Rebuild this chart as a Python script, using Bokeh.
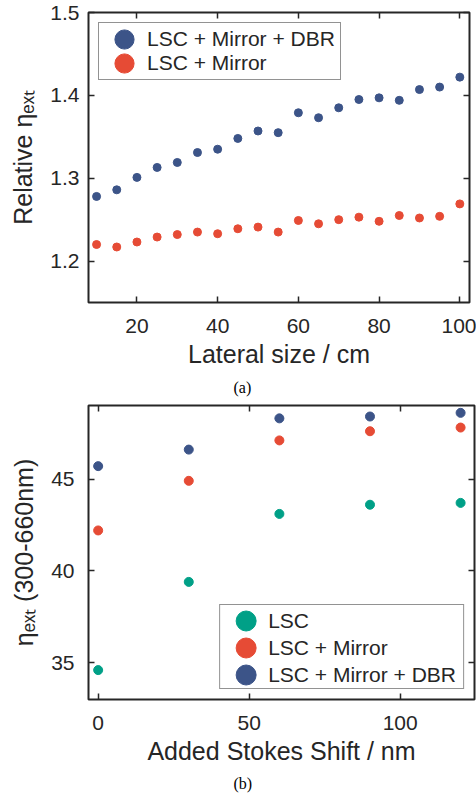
from bokeh.plotting import figure
from bokeh.models import Range1d, LinearAxis, FixedTicker, Legend, LegendItem, Title
from bokeh.layouts import column
from bokeh.embed import file_html
from bokeh.resources import INLINE

# ---------------- data: panel (a) ----------------
lateral_size = [10, 15, 20, 25, 30, 35, 40, 45, 50, 55, 60, 65, 70, 75, 80, 85, 90, 95, 100]
rel_mirror_dbr = [1.278, 1.286, 1.301, 1.313, 1.319, 1.331, 1.335, 1.348, 1.357, 1.355,
                  1.379, 1.373, 1.385, 1.395, 1.397, 1.394, 1.407, 1.410, 1.422]
rel_mirror = [1.220, 1.217, 1.223, 1.229, 1.232, 1.235, 1.233, 1.239, 1.241, 1.235,
              1.249, 1.245, 1.250, 1.253, 1.248, 1.255, 1.252, 1.254, 1.269]
a_xticks = [20, 40, 60, 80, 100]
a_yticks = [1.2, 1.3, 1.4, 1.5]
a_xrange = (8, 102.4)
a_yrange = (1.15, 1.5)

# ---------------- data: panel (b) ----------------
stokes_shift = [0, 30, 60, 90, 120]
eta_lsc = [34.6, 39.4, 43.1, 43.6, 43.7]
eta_mirror = [42.2, 44.9, 47.1, 47.6, 47.8]
eta_mirror_dbr = [45.7, 46.6, 48.3, 48.4, 48.6]
b_xticks = [0, 50, 100]
b_yticks = [35, 40, 45]
b_xrange = (-3.2, 124.6)
b_yrange = (33, 49)

BLUE = "#3C5488"
RED = "#E64B35"
GREEN = "#00A087"
DARK = "#262626"
FONT = "Liberation Sans"
SERIF = "Liberation Serif"


def style_axis(ax, ticks, labels=True):
    ax.ticker = FixedTicker(ticks=ticks)
    ax.major_tick_in = 6
    ax.major_tick_out = 0
    ax.minor_tick_line_color = None
    ax.major_tick_line_color = DARK
    ax.major_tick_line_width = 1.5
    ax.axis_line_color = None
    ax.major_label_text_font = FONT
    if labels:
        ax.major_label_text_color = DARK
        ax.major_label_text_font_size = "21px"
    else:
        ax.major_label_text_color = None
        ax.major_label_text_font_size = "0px"
        ax.major_label_standoff = 0


def make_fig(xr, yr, xticks, yticks, fw, fh, left, right, top, bottom,
             xlabel, ylabel, ytick_standoff, caption, caption_offset, caption_standoff):
    p = figure(output_backend="svg", toolbar_location=None,
               frame_width=fw, frame_height=fh,
               x_range=Range1d(*xr), y_range=Range1d(*yr),
               min_border_left=left, min_border_right=right,
               min_border_top=top, min_border_bottom=bottom)
    p.grid.visible = False
    p.outline_line_color = DARK
    p.outline_line_width = 2
    p.background_fill_color = "white"
    p.border_fill_color = "white"
    xa, ya = p.xaxis[0], p.yaxis[0]
    style_axis(xa, xticks)
    style_axis(ya, yticks)
    xa.major_label_standoff = 16
    ya.major_label_standoff = ytick_standoff
    for ax, lab, so in ((xa, xlabel, 4), (ya, ylabel, 10)):
        ax.axis_label = lab
        ax.axis_label_text_font = FONT
        ax.axis_label_text_font_size = "25px"
        ax.axis_label_text_font_style = "normal"
        ax.axis_label_text_color = DARK
        ax.axis_label_standoff = so
    top_ax = LinearAxis()
    right_ax = LinearAxis()
    style_axis(top_ax, xticks, labels=False)
    style_axis(right_ax, yticks, labels=False)
    p.add_layout(top_ax, "above")
    p.add_layout(right_ax, "right")
    p.add_layout(Title(text=caption, align="left", offset=caption_offset,
                       standoff=caption_standoff,
                       text_font=SERIF, text_font_size="16px", text_font_style="normal",
                       text_color="black"), "below")
    return p


def dots(p, x, y, color, d):
    return p.ellipse(x, y, width=d, height=d, width_units="screen", height_units="screen",
                     fill_color=color, line_color=color)


# ---------------- panel (a) ----------------
pa = make_fig(a_xrange, a_yrange, a_xticks, a_yticks, 381, 290, 88, 7, 12, 102,
              "Lateral size / cm", "Relative ηₑₓₜ", 9, "(a)", 145, 12)
ra_dbr = dots(pa, lateral_size, rel_mirror_dbr, BLUE, 8)
ra_mir = dots(pa, lateral_size, rel_mirror, RED, 8)
leg_a = Legend(items=[LegendItem(label="LSC + Mirror + DBR", renderers=[ra_dbr]),
                      LegendItem(label="LSC + Mirror", renderers=[ra_mir])],
               location="top_left", margin=10,
               padding=dict(left=13, right=5, top=4, bottom=4), spacing=0,
               glyph_height=24, glyph_width=24, label_standoff=11, label_height=20,
               label_text_font=FONT, label_text_font_size="21px", label_text_color=DARK,
               border_line_color=DARK, border_line_width=1.5,
               background_fill_color="white", background_fill_alpha=1.0)
pa.add_layout(leg_a)

# ---------------- panel (b) ----------------
pb = make_fig(b_xrange, b_yrange, b_xticks, b_yticks, 386, 294, 88, 2, 1, 99,
              "Added Stokes Shift / nm", "ηₑₓₜ (300-660nm)", 14, "(b)", 145, 11)
rb_lsc = dots(pb, stokes_shift, eta_lsc, GREEN, 9)
rb_mir = dots(pb, stokes_shift, eta_mirror, RED, 9)
rb_dbr = dots(pb, stokes_shift, eta_mirror_dbr, BLUE, 9)
leg_b = Legend(items=[LegendItem(label="LSC", renderers=[rb_lsc]),
                      LegendItem(label="LSC + Mirror", renderers=[rb_mir]),
                      LegendItem(label="LSC + Mirror + DBR", renderers=[rb_dbr])],
               location="bottom_right", margin=10,
               padding=dict(left=13, right=7, top=3, bottom=1), spacing=2,
               glyph_height=25, glyph_width=25, label_standoff=10, label_height=20,
               label_text_font=FONT, label_text_font_size="21px", label_text_color=DARK,
               border_line_color=DARK, border_line_width=1.5,
               background_fill_color="white", background_fill_alpha=1.0)
pb.add_layout(leg_b)

layout = column(pa, pb, spacing=0)
open("out.html", "w").write(file_html(layout, INLINE))
